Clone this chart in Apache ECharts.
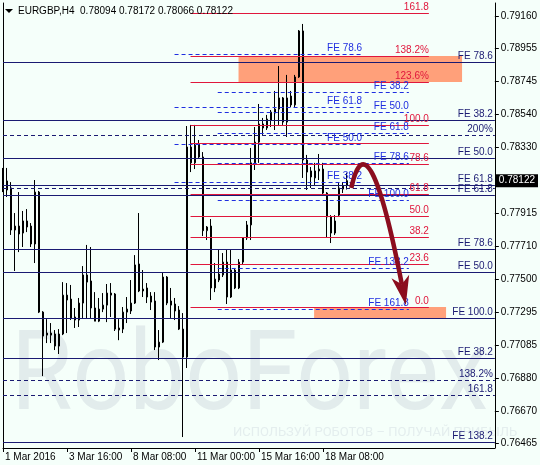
<!DOCTYPE html>
<html><head><meta charset="utf-8">
<script src="https://cdn.jsdelivr.net/npm/echarts@6.0.0/dist/echarts.min.js"></script>
<style>
html,body{margin:0;padding:0;background:#f5fffa;}
#chart{width:540px;height:465px;}
</style></head><body><div id="chart"></div>
<script>
// ---------- DATA ----------
const titleText = 'EURGBP,H4  0.78094 0.78172 0.78066 0.78122';
const xTickBars = [1, 17, 33, 49, 65, 81];
const xTickLabels = ['1 Mar 2016', '3 Mar 16:00', '8 Mar 08:00', '11 Mar 00:00', '15 Mar 16:00', '18 Mar 08:00'];
const priceTicks = [0.79160, 0.78955, 0.78745, 0.78540, 0.78330, 0.77915, 0.77710, 0.77500, 0.77295, 0.77085, 0.76880, 0.76670, 0.76465];
const lastPrice = 0.78122;

const opens = [0.78189,0.78120,0.78076,0.77811,0.77836,0.77792,0.77868,0.77836,0.77723,0.78050,
0.77294,0.77162,0.77162,0.77156,0.77080,0.77156,0.77401,0.77376,0.77263,0.77244,
0.77351,0.77528,0.77490,0.77320,0.77237,0.77313,0.77338,0.77414,0.77408,0.77194,
0.77187,0.77294,0.77301,0.77351,0.77597,0.77439,0.77446,0.77395,0.77364,0.77074,
0.77105,0.77515,0.77364,0.77345,0.77307,0.77187,0.77011,0.78334,0.78234,0.78352,
0.78271,0.77807,0.77836,0.77446,0.77496,0.77528,0.77609,0.77389,0.77559,0.77446,
0.77609,0.77761,0.77843,0.78234,0.78365,0.78479,0.78454,0.78504,0.78548,0.78573,
0.78643,0.78491,0.78655,0.78599,0.78775,0.79065,0.78252,0.78183,0.78139,0.78183,
0.78195,0.78044,0.77893,0.77792,0.77905,0.78069,0.78094];
const closes = [0.78095,0.78063,0.77811,0.77836,0.77786,0.77868,0.77830,0.77723,0.78050,0.77294,
0.77143,0.77149,0.77149,0.77080,0.77156,0.77401,0.77370,0.77257,0.77244,0.77351,
0.77528,0.77483,0.77320,0.77237,0.77313,0.77338,0.77414,0.77401,0.77187,0.77181,
0.77294,0.77313,0.77351,0.77591,0.77427,0.77427,0.77389,0.77357,0.77074,0.77105,
0.77515,0.77351,0.77338,0.77301,0.77187,0.77011,0.78334,0.78234,0.78346,0.78271,
0.77807,0.77830,0.77446,0.77502,0.77534,0.77609,0.77389,0.77559,0.77446,0.77609,
0.77761,0.77843,0.78234,0.78365,0.78479,0.78454,0.78510,0.78554,0.78573,0.78643,
0.78491,0.78643,0.78599,0.78775,0.79065,0.78252,0.78176,0.78145,0.78183,0.78195,
0.78044,0.77893,0.77792,0.77868,0.78076,0.78088,0.78122];
const lows = [0.78050,0.78019,0.77780,0.77553,0.77672,0.77704,0.77798,0.77704,0.77603,0.77288,
0.76891,0.77099,0.77099,0.77055,0.77030,0.77149,0.77162,0.77244,0.77194,0.77200,
0.77257,0.77257,0.77257,0.77237,0.77231,0.77294,0.77231,0.77263,0.77175,0.77117,
0.77162,0.77225,0.77282,0.77345,0.77420,0.77389,0.77351,0.77307,0.77055,0.76992,
0.77099,0.77338,0.77257,0.77244,0.77181,0.76507,0.76942,0.78176,0.78195,0.78265,
0.77773,0.77748,0.77370,0.77420,0.77483,0.77515,0.77345,0.77383,0.77439,0.77439,
0.77597,0.77748,0.77748,0.78189,0.78234,0.78410,0.78441,0.78460,0.78441,0.78473,
0.78473,0.78397,0.78586,0.78586,0.78769,0.78139,0.78063,0.78076,0.78095,0.78126,
0.78032,0.77767,0.77729,0.77780,0.77893,0.78044,0.78066];
const highs = [0.78202,0.78202,0.78113,0.77918,0.78050,0.77931,0.77943,0.77855,0.78126,0.78057,
0.77300,0.77250,0.77225,0.77181,0.77187,0.77483,0.77477,0.77465,0.77320,0.77383,
0.77584,0.77717,0.77704,0.77420,0.77383,0.77414,0.77471,0.77477,0.77414,0.77250,
0.77326,0.77389,0.77496,0.77653,0.77918,0.77559,0.77477,0.77420,0.77420,0.77181,
0.77546,0.77521,0.77446,0.77383,0.77332,0.77288,0.78466,0.78473,0.78473,0.78378,
0.78302,0.77836,0.77880,0.77603,0.77691,0.77666,0.77685,0.77685,0.77572,0.77628,
0.77767,0.77868,0.78328,0.78460,0.78605,0.78517,0.78536,0.78567,0.78687,0.78844,
0.78649,0.78788,0.78687,0.78788,0.79071,0.79109,0.78284,0.78208,0.78234,0.78290,
0.78234,0.78050,0.77905,0.77905,0.78107,0.78113,0.78172];

// full-width horizontal levels (navy)
const navyLevels = [0.78869,0.78504,0.78410,0.78265,0.78095,0.78076,0.78032,0.77691,0.77546,0.77257,0.77005,0.76866,0.76772,0.76475];
const navyLabels = ['FE 78.6','FE 38.2','200%','FE 50.0','FE 61.8','','FE 61.8','FE 78.6','FE 50.0','FE 100.0','FE 38.2','138.2%','161.8','FE 138.2'];
const navyDashed = [false,false,true,false,false,true,false,false,false,false,false,true,true,false];

// fibo retracement (red), anchored in bar units
const redLevels = [0.79178,0.78907,0.78743,0.78473,0.78359,0.78227,0.78038,0.77899,0.77767,0.77597,0.77326];
const redLabels = ['161.8','138.2%','123.6%','100.0','','78.6','61.8','50.0','38.2','23.6','0.0'];
const redSpan = [47.9, 107.5];

// fibo expansion A (blue dashed)
const feALevels = [0.78920,0.78586,0.78353,0.78113];
const feALabels = ['FE 78.6','FE 61.8','FE 50.0','FE 38.2'];
const feASpan = [43.9, 90.8];

// fibo expansion B (blue dashed)
const feBLevels = [0.78680,0.78554,0.78422,0.78233,0.78000,0.77572,0.77313];
const feBLabels = ['FE 38.2','FE 50.0','FE 61.8','FE 78.6','FE 100.0','FE 138.2','FE 161.8'];
const feBSpan = [54.7, 102.5];

// target zones [barFrom, priceTop, barTo, priceBottom]
const zoneUpper = [59.9, 0.78907, 115.8, 0.78743];
const zoneLower = [78.8, 0.77326, 111.8, 0.77257];

// forecast arrow path [bar, price]: start, control, end of shaft
const arrowPath = [[88.1, 0.78076], [92.3, 0.78560], [100.5, 0.77500]];

// ---------- CHART ----------
const FONT = 'Liberation Sans, Arial, sans-serif';
const NAVY = '#1a1a72', RED = '#e0173c', BLUE = '#1f2ee0';
const chart = echarts.init(document.getElementById('chart'), null, {renderer: 'canvas'});

const candleData = opens.map((o, i) => [i + 1, o, closes[i], lows[i], highs[i]]);

function spanLines(levels, labels, span, color, dashed) {
  return levels.map((v, i) => [
    {coord: [span[0], v], lineStyle: {color: color, width: 1, type: dashed ? [4, 3] : 'solid'},
     label: {show: labels[i] !== '', formatter: labels[i], color: color}},
    {coord: [span[1], v]}
  ]);
}

const option = {
  backgroundColor: '#f5fffa',
  animation: false,
  grid: {left: 3, right: 44, top: 3, bottom: 17, containLabel: false},
  xAxis: {
    type: 'value', min: 1, max: 124,
    axisLine: {show: true, onZero: false, lineStyle: {color: '#000', width: 1}},
    axisTick: {show: true, customValues: xTickBars, length: 4, lineStyle: {color: '#000'}},
    axisLabel: {show: true, customValues: xTickBars, align: 'left', margin: 4, padding: [0, 0, 0, 2],
      color: '#000', fontSize: 10, fontFamily: FONT,
      formatter: v => xTickLabels[xTickBars.indexOf(v)] || ''},
    splitLine: {show: false}
  },
  yAxis: [{
    type: 'value', position: 'right', min: 0.76438, max: 0.79241, scale: true,
    axisLine: {show: true, lineStyle: {color: '#000', width: 1}},
    axisTick: {show: true, customValues: priceTicks, length: 4, lineStyle: {color: '#000'}},
    axisLabel: {show: true, customValues: priceTicks, margin: 6, color: '#000', fontSize: 10, fontFamily: FONT,
      formatter: v => v.toFixed(5)},
    splitLine: {show: false}
  }, {
    type: 'value', position: 'left', min: 0.76438, max: 0.79241, scale: true,
    axisLine: {show: true, lineStyle: {color: '#000', width: 1}},
    axisTick: {show: false}, axisLabel: {show: false}, splitLine: {show: false}
  }],
  graphic: [
    {type: 'text', id: 'wm', z: 0, x: 10, y: 381, scaleX: 0.89, scaleY: 1, originX: 10, originY: 381, silent: true,
     style: {text: 'RoboForex', fontFamily: 'Roboto, sans-serif', fontSize: 112, fill: '#e2ecec', verticalAlign: 'middle'}},
    {type: 'text', id: 'wm2', z: 0, x: 233, y: 433, silent: true,
     style: {text: 'ИСПОЛЬЗУЙ РОБОТОВ – ПОЛУЧАЙ ПРИБЫЛЬ', fontFamily: 'Roboto, sans-serif', fontSize: 13, fill: '#e4eeee', verticalAlign: 'middle'}},
    {type: 'polygon', id: 'tri', z: 100, shape: {points: [[5, 9], [13, 9], [9, 13]]}, style: {fill: '#000'}},
    {type: 'text', id: 'title', z: 100, x: 18, y: 11,
     style: {text: titleText, fontFamily: FONT, fontSize: 10, fill: '#000', verticalAlign: 'middle'}}
  ],
  series: [
    {
      type: 'line', name: 'zones', data: [], z: 1, silent: true,
      markArea: {silent: true, itemStyle: {color: '#ffa07a', opacity: 1},
        data: [
          [{coord: [zoneUpper[0], zoneUpper[1]]}, {coord: [zoneUpper[2], zoneUpper[3]]}],
          [{coord: [zoneLower[0], zoneLower[1]]}, {coord: [zoneLower[2], zoneLower[3]]}]
        ]}
    },
    {
      type: 'candlestick', name: 'EURGBP', z: 3,
      data: candleData,
      encode: {x: 0, y: [1, 2, 3, 4]},
      barWidth: 2,
      itemStyle: {color: '#ffffff', color0: '#000000', borderColor: '#000000', borderColor0: '#000000', borderWidth: 1}
    },
    {
      type: 'line', name: 'navy', data: [], z: 4, silent: true,
      markLine: {silent: true, precision: 5, symbol: ['none', 'none'], animation: false,
        label: {position: 'insideEndTop', distance: [2, 1], fontSize: 10, fontFamily: FONT, color: NAVY},
        data: navyLevels.map((v, i) => ({yAxis: v,
          lineStyle: {color: NAVY, width: 1, type: navyDashed[i] ? [4, 3] : 'solid'},
          label: {show: navyLabels[i] !== '', formatter: navyLabels[i], color: NAVY}}))}
    },
    {
      type: 'line', name: 'red', data: [], z: 5, silent: true,
      markLine: {silent: true, precision: 5, symbol: ['none', 'none'], animation: false,
        label: {position: 'insideEndTop', distance: [0, 1], fontSize: 10, fontFamily: FONT},
        data: spanLines(redLevels, redLabels, redSpan, RED, false)}
    },
    {
      type: 'line', name: 'feA', data: [], z: 5, silent: true,
      markLine: {silent: true, precision: 5, symbol: ['none', 'none'], animation: false,
        label: {position: 'insideEndTop', distance: [0, 1], fontSize: 10, fontFamily: FONT},
        data: spanLines(feALevels, feALabels, feASpan, BLUE, true)}
    },
    {
      type: 'line', name: 'feB', data: [], z: 5, silent: true,
      markLine: {silent: true, precision: 5, symbol: ['none', 'none'], animation: false,
        label: {position: 'insideEndTop', distance: [0, 1], fontSize: 10, fontFamily: FONT},
        data: spanLines(feBLevels, feBLabels, feBSpan, BLUE, true)}
    },
    {
      type: 'line', name: 'last', data: [], z: 6, silent: true,
      markLine: {silent: true, precision: 5, symbol: ['none', 'none'], animation: false,
        data: [{yAxis: lastPrice, lineStyle: {color: 'rgba(0,0,0,0)', width: 1, opacity: 1},
          label: {show: true, position: 'end', distance: 1, formatter: lastPrice.toFixed(5), opacity: 1,
            color: '#fff', backgroundColor: '#000', padding: [2, 3, 1, 3], fontSize: 10, fontFamily: FONT}}]}
    }
  ]
};
chart.setOption(option);

// forecast arrow, placed from data coordinates
function drawArrow() {
  const p = arrowPath.map(pt => chart.convertToPixel({gridIndex: 0}, pt));
  const [s, c, e] = p;
  let dx = e[0] - c[0], dy = e[1] - c[1];
  const len = Math.hypot(dx, dy); dx /= len; dy /= len;
  const px = -dy, py = dx;
  const headLen = 26, headW = 9;
  const tip = [e[0] + dx * headLen, e[1] + dy * headLen];
  const b1 = [e[0] + px * headW - dx * 3, e[1] + py * headW - dy * 3];
  const b2 = [e[0] - px * headW - dx * 3, e[1] - py * headW - dy * 3];
  const inner = [e[0] + dx * 5, e[1] + dy * 5];
  chart.setOption({graphic: [
    {type: 'bezierCurve', id: 'arrowShaft', z: 50, silent: true,
     shape: {x1: s[0], y1: s[1], cpx1: c[0], cpy1: c[1], x2: inner[0], y2: inner[1]},
     style: {stroke: '#8b0d1e', lineWidth: 4.5, fill: null}},
    {type: 'polygon', id: 'arrowHead', z: 50, silent: true,
     shape: {points: [tip, b1, inner, b2]}, style: {fill: '#8b0d1e'}}
  ]});
}
drawArrow();
</script></body></html>
